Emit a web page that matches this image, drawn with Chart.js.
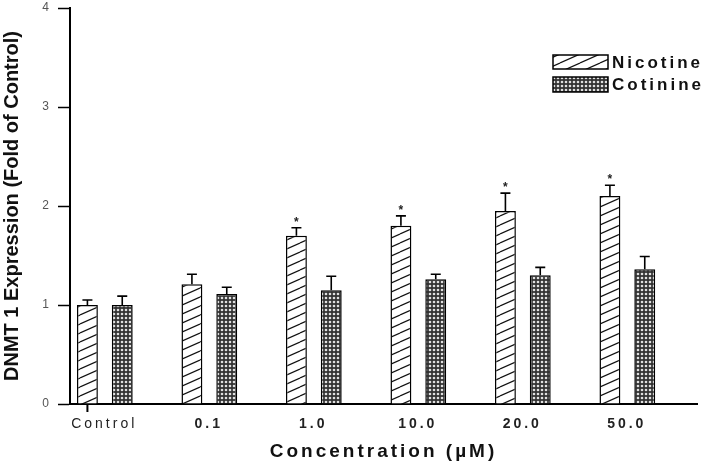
<!DOCTYPE html>
<html>
<head>
<meta charset="utf-8">
<script src="https://cdn.jsdelivr.net/npm/chart.js@4/dist/chart.umd.min.js"></script>
<style>
  html, body { margin: 0; padding: 0; background: #fff; }
  #wrap { width: 708px; height: 471px; position: relative; }
</style>
</head>
<body>
<div id="wrap"><canvas id="c" width="708" height="471"></canvas></div>
<script>
// ---- data ----
const categories = ['Control', '0.1', '1.0', '10.0', '20.0', '50.0'];
const seriesNames = ['Nicotine', 'Cotinine'];
const nicotine = [1.0, 1.21, 1.70, 1.80, 1.95, 2.10];
const nicotineErr = [0.05, 0.10, 0.08, 0.10, 0.18, 0.11];
const cotinine = [1.0, 1.11, 1.15, 1.26, 1.30, 1.36];
const cotinineErr = [0.09, 0.07, 0.14, 0.05, 0.08, 0.13];
const nicotineSignificant = [false, false, true, true, true, true];
const yTicks = [0, 1, 2, 3, 4];

// ---- patterns ----
function hatchPattern() {
  const t = document.createElement('canvas');
  t.width = 20; t.height = 9;
  const g = t.getContext('2d');
  g.fillStyle = '#fff'; g.fillRect(0, 0, 20, 9);
  g.strokeStyle = '#111'; g.lineWidth = 1.2;
  for (let k = -1; k <= 1; k++) {
    g.beginPath(); g.moveTo(0, 9 + 9 * k); g.lineTo(20, 9 * k); g.stroke();
  }
  return g.createPattern(t, 'repeat');
}
function meshPattern() {
  const t = document.createElement('canvas');
  t.width = 4; t.height = 4;
  const g = t.getContext('2d');
  g.fillStyle = '#333'; g.fillRect(0, 0, 4, 4);
  g.fillStyle = '#e0e0e0';
  g.beginPath(); g.arc(2, 2, 1.3, 0, Math.PI * 2); g.fill();
  return g.createPattern(t, 'repeat');
}
const fills = [hatchPattern(), meshPattern()];
const errs = [nicotineErr, cotinineErr];
const values = [nicotine, cotinine];

const FONT = "'Liberation Sans', Arial, sans-serif";

const extras = {
  id: 'extras',
  beforeLayout(chart) {
    const s = chart.scales.x;
    if (s && !s._ls) {
      const orig = s.draw;
      s.draw = function (a) {
        const c = this.ctx; c.save(); c.letterSpacing = '3px'; orig.call(this, a); c.restore();
      };
      s._ls = true;
    }
  },
  afterDatasetsDraw(chart) {
    const ctx = chart.ctx;
    const y = chart.scales.y;
    ctx.save();
    ctx.strokeStyle = '#000';
    ctx.lineWidth = 1.6;
    for (let d = 0; d < 2; d++) {
      const meta = chart.getDatasetMeta(d);
      meta.data.forEach((bar, i) => {
        const top = y.getPixelForValue(values[d][i] + errs[d][i]);
        ctx.beginPath();
        ctx.moveTo(bar.x, bar.y);
        ctx.lineTo(bar.x, top);
        ctx.moveTo(bar.x - 5, top);
        ctx.lineTo(bar.x + 5, top);
        ctx.stroke();
        if (d === 0 && nicotineSignificant[i]) {
          ctx.fillStyle = '#222';
          ctx.font = 'bold 12px ' + FONT;
          ctx.textAlign = 'center';
          ctx.textBaseline = 'alphabetic';
          ctx.fillText('*', bar.x, top - 2);
        }
      });
    }
    // single x tick mark under first bar
    const b0 = chart.getDatasetMeta(0).data[0];
    ctx.lineWidth = 2;
    ctx.beginPath();
    ctx.moveTo(b0.x, chart.chartArea.bottom);
    ctx.lineTo(b0.x, chart.chartArea.bottom + 8);
    ctx.stroke();
    ctx.restore();
  },
  afterDraw(chart) {
    const ctx = chart.ctx;
    ctx.save();
    const boxes = [{ x: 553, y: 55, h: 14 }, { x: 553, y: 77, h: 15 }];
    ctx.font = 'bold 17px ' + FONT;
    ctx.letterSpacing = '3px';
    ctx.textAlign = 'left';
    ctx.textBaseline = 'middle';
    for (let d = 0; d < 2; d++) {
      const bx = boxes[d];
      ctx.fillStyle = chart.data.datasets[d].backgroundColor;
      ctx.fillRect(bx.x, bx.y, 55, bx.h);
      ctx.strokeStyle = '#000'; ctx.lineWidth = 1.5;
      ctx.strokeRect(bx.x, bx.y, 55, bx.h);
      ctx.fillStyle = '#111';
      ctx.fillText(chart.data.datasets[d].label, bx.x + 59, bx.y + bx.h / 2 + 1);
    }
    ctx.restore();
  }
};

new Chart(document.getElementById('c'), {
  type: 'bar',
  data: {
    labels: categories,
    datasets: [
      { label: seriesNames[0], data: nicotine, backgroundColor: fills[0], borderColor: '#000', borderWidth: 1.5 },
      { label: seriesNames[1], data: cotinine, backgroundColor: fills[1], borderColor: '#000', borderWidth: 1.5 },
      { label: '', data: categories.map(() => null), backgroundColor: 'rgba(0,0,0,0)', borderWidth: 0 }
    ]
  },
  options: {
    responsive: false,
    animation: false,
    devicePixelRatio: 1,
    categoryPercentage: 1.0,
    barPercentage: 0.6,
    layout: { padding: { top: 0, right: 11, bottom: 0, left: 0 } },
    plugins: { legend: { display: false }, tooltip: { enabled: false } },
    scales: {
      x: {
        grid: { display: false, drawTicks: false },
        border: { display: true, color: '#000', width: 2 },
        ticks: {
          autoSkip: false,
          maxRotation: 0,
          padding: 12,
          labelOffset: -18,
          color: '#222',
          font: (c) => ({ family: FONT, size: 14, weight: c.index === 0 ? 'normal' : 'bold' })
        },
        title: {
          display: true,
          text: 'Concentration (\u00b5M)',
          color: '#111',
          font: { family: FONT, size: 19, weight: 'bold' },
          padding: { top: 0, bottom: 8 }
        },
        afterFit: (s) => { s.height = 67; }
      },
      y: {
        min: 0, max: 4,
        afterBuildTicks: (s) => { s.ticks = yTicks.map(v => ({ value: v })); },
        grid: { display: true, drawOnChartArea: false, drawTicks: true, tickLength: 12, tickColor: '#000', tickWidth: 1.5 },
        border: { display: true, color: '#000', width: 2 },
        ticks: { color: '#555', padding: 9, font: { family: FONT, size: 12 } },
        title: {
          display: true,
          text: 'DNMT 1 Expression (Fold of Control)',
          color: '#111',
          font: { family: FONT, size: 20, weight: 'bold' },
          padding: { top: 0, bottom: 0 }
        },
        afterFit: (s) => { s.width = 70; s.paddingTop = 8; s.paddingBottom = 0; }
      }
    }
  },
  plugins: [extras]
});
</script>
</body>
</html>
